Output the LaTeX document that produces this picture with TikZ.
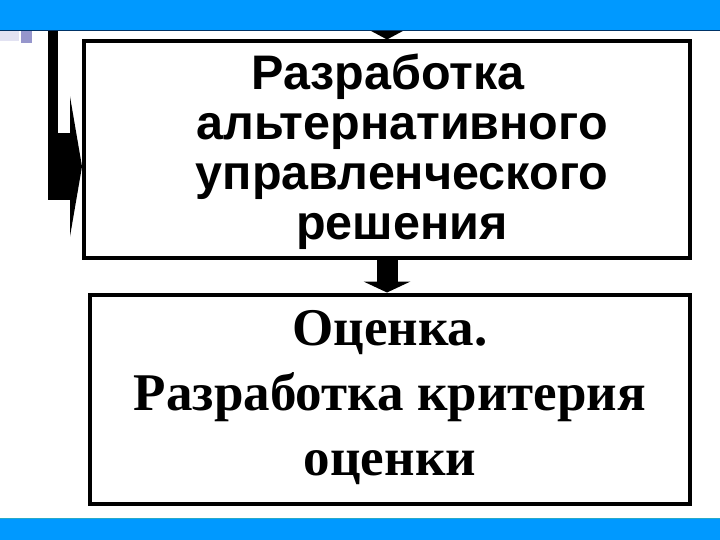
\documentclass[tikz,border=0pt]{standalone}
\usepackage{fontspec}
\setmainfont{Liberation Serif}
\newfontfamily\arialfont{Liberation Sans}
\usepackage{tikz}
\usetikzlibrary{arrows.meta,calc,positioning}
\definecolor{barblue}{RGB}{0,153,255}
\definecolor{barline}{RGB}{0,51,102}
\definecolor{bartop}{RGB}{40,170,200}
\definecolor{paleblock}{RGB}{226,226,242}
\definecolor{darkblock}{RGB}{150,150,204}
\tikzset{
  stagebox/.style={draw=black,line width=4pt,fill=white,inner sep=0pt},
  stagetext/.style={align=center,inner sep=0pt},
  blockarrow/.style={draw=black,line cap=butt}
}

\begin{document}
\begin{tikzpicture}[x=1pt,y=-1pt]
\useasboundingbox (0,0) rectangle (720,540);
\node[stagebox,minimum width=606pt,minimum height=216pt] (alt) at (387,149.5) {};
\node[stagetext,font=\arialfont\bfseries\fontsize{48.5}{50}\selectfont] (altText) at ($(alt.center)+(15,2)$) {Разработка\hspace*{28pt}\\альтернативного\\управленческого\\решения};
\node[stagebox,minimum width=600pt,minimum height=209pt] (crit) at (390,399) {};
\node[stagetext,font=\bfseries\fontsize{53}{65}\selectfont] (critText) at ($(crit.center)+(0,-1)$) {Оценка.\\Разработка критерия\\оценки};
\coordinate (topFeed) at ($(alt.north)+(0,-24)$);
\coordinate (loopTop) at (53,31);
\coordinate (loopTurn) at (53,140);
\coordinate (loopFoot) at (48,166.5);
\draw[blockarrow,line width=20pt,-{Triangle[width=41pt,length=11pt,line width=0pt]}] (topFeed) -- (alt.north);
\draw[blockarrow,line width=21pt,-{Triangle[width=47pt,length=11pt,line width=0pt]}] (alt.south) -- (alt.south |- crit.north);
\draw[blockarrow,line width=10pt] (loopTop) -- (loopTurn);
\draw[blockarrow,line width=67pt,-{Triangle[width=140pt,length=12pt,line width=0pt]}] (loopFoot) -- (alt.west |- loopFoot);
\fill[barblue] (0,0) rectangle (720,31);
\draw[barline,line width=1pt] (0,31) -- (720,31);
\fill[paleblock] (0,31.5) rectangle (19,41);
\fill[darkblock] (21,31.5) rectangle (32,43);
\fill[barblue] (0,518) rectangle (720,540);
\draw[bartop,line width=1pt] (0,518.5) -- (720,518.5);
\end{tikzpicture}
\end{document}
